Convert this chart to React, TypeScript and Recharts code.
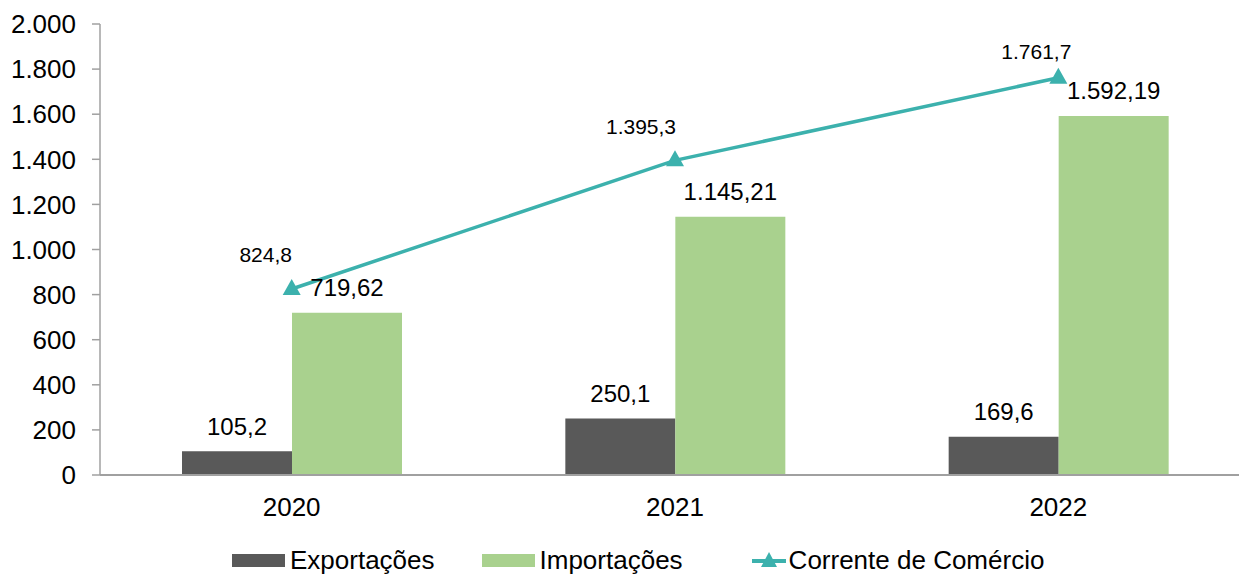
import React from 'react';
import { ComposedChart, Bar, Line, XAxis, YAxis, Legend, LabelList } from 'recharts';

const years = ['2020', '2021', '2022'];
const exportacoes = [105.2, 250.1, 169.6];
const importacoes = [719.62, 1145.21, 1592.19];
const corrente = [824.8, 1395.3, 1761.7];
const yTicks = [0, 200, 400, 600, 800, 1000, 1200, 1400, 1600, 1800, 2000];

const data = years.map((year, i) => ({
  year,
  exportacoes: exportacoes[i],
  importacoes: importacoes[i],
  corrente: corrente[i],
}));

const FONT = '"Liberation Sans", Arial, sans-serif';
const GREY = '#595959';
const GREEN = '#a9d18e';
const TEAL = '#3cb1ad';
const AXIS = '#a0a0a0';

// the line labels were nudged by hand in the original, one offset per point
const lineLabelShift = [
  { dx: -26, dy: -35 },
  { dx: -34, dy: -34 },
  { dx: -22, dy: -26 },
];

// pt-BR style: "." for thousands, "," for decimals
const fmt = (v: number, decimals: number) => {
  const [int, dec] = v.toFixed(decimals).split('.');
  const withDots = int.replace(/\B(?=(\d{3})+(?!\d))/g, '.');
  return dec ? `${withDots},${dec}` : withDots;
};

const Triangle = (props: any) => {
  const { cx, cy } = props;
  if (cx == null || cy == null) return null;
  return (
    <path
      d={`M${cx},${cy - 10} L${cx + 9},${cy + 6} L${cx - 9},${cy + 6} Z`}
      fill={TEAL}
    />
  );
};

const BarLabel = (decimals: number) => (props: any) => {
  const { x, y, width, value } = props;
  return (
    <text
      x={x + width / 2}
      y={y - 25}
      textAnchor="middle"
      dominantBaseline="central"
      fontSize={24}
      fontFamily={FONT}
      fill="#000"
    >
      {fmt(value, decimals)}
    </text>
  );
};

const LineLabel = (props: any) => {
  const { x, y, value, index } = props;
  const s = lineLabelShift[index] || { dx: -26, dy: -34 };
  return (
    <text
      x={x + s.dx}
      y={y + s.dy}
      textAnchor="middle"
      dominantBaseline="central"
      fontSize={21}
      fontFamily={FONT}
      fill="#000"
    >
      {fmt(value, 1)}
    </text>
  );
};

const LegendContent = () => {
  const text: React.CSSProperties = { fontSize: 26, fontFamily: FONT, color: '#000', marginLeft: 5 };
  return (
    <div style={{ height: 30, display: 'flex', alignItems: 'center', paddingLeft: 232 }}>
      <span style={{ width: 53, height: 13, background: GREY, display: 'inline-block' }} />
      <span style={text}>Exportações</span>
      <span style={{ width: 53, height: 13, background: GREEN, display: 'inline-block', marginLeft: 47 }} />
      <span style={text}>Importações</span>
      <svg width={34} height={20} style={{ marginLeft: 69 }}>
        <line x1={0} y1={11} x2={34} y2={11} stroke={TEAL} strokeWidth={4} />
        <path d="M17,2 L25,17 L9,17 Z" fill={TEAL} />
      </svg>
      <span style={{ ...text, marginLeft: 3 }}>Corrente de Comércio</span>
    </div>
  );
};

export default function App() {
  return (
    <div style={{ position: 'absolute', left: 0, top: 0, width: 1239, height: 575, overflow: 'hidden', background: '#fff' }}>
      <ComposedChart
        width={1250}
        height={575}
        data={data}
        margin={{ top: 24, right: 0, bottom: 0, left: 0 }}
        barGap={0}
      >
        <XAxis
          dataKey="year"
          height={70}
          axisLine={{ stroke: AXIS, strokeWidth: 2 }}
          tickLine={false}
          tickSize={0}
          tickMargin={23}
          tick={{ fill: '#000', fontSize: 26, fontFamily: FONT }}
        />
        <YAxis
          width={100}
          domain={[0, 2000]}
          ticks={yTicks}
          interval={0}
          tickFormatter={(v: number) => fmt(v, 0)}
          axisLine={{ stroke: AXIS, strokeWidth: 1.5 }}
          tickLine={{ stroke: AXIS, strokeWidth: 1.5 }}
          tickSize={8}
          tickMargin={16}
          tick={{ fill: '#000', fontSize: 26, fontFamily: FONT }}
        />
        <Legend
          verticalAlign="bottom"
          content={<LegendContent />}
          wrapperStyle={{ left: 0, width: 1250, height: 30 }}
        />
        <Bar dataKey="exportacoes" name="Exportações" fill={GREY} barSize={110} isAnimationActive={false}>
          <LabelList dataKey="exportacoes" content={BarLabel(1)} />
        </Bar>
        <Bar dataKey="importacoes" name="Importações" fill={GREEN} barSize={110} isAnimationActive={false}>
          <LabelList dataKey="importacoes" content={BarLabel(2)} />
        </Bar>
        <Line
          dataKey="corrente"
          name="Corrente de Comércio"
          stroke={TEAL}
          strokeWidth={3.5}
          dot={<Triangle />}
          activeDot={false}
          isAnimationActive={false}
        >
          <LabelList dataKey="corrente" content={LineLabel} />
        </Line>
      </ComposedChart>
    </div>
  );
}
